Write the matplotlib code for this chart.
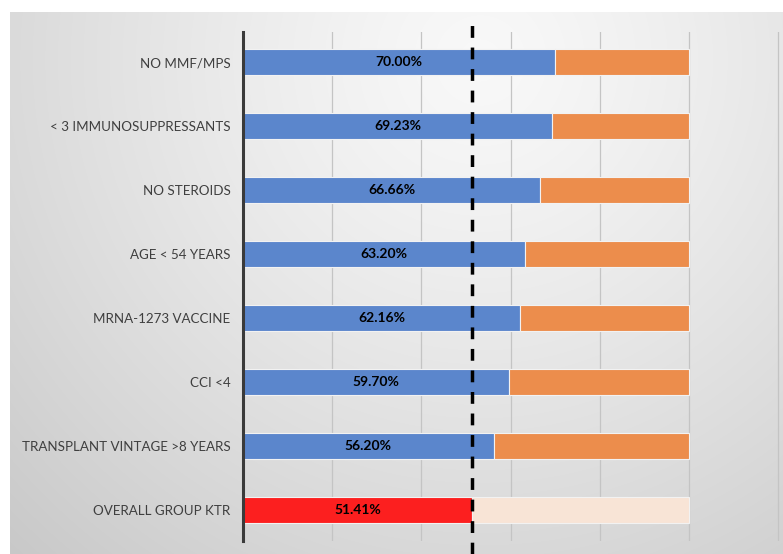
import numpy as np
import matplotlib
matplotlib.use("Agg")
import matplotlib.pyplot as plt
import matplotlib.transforms as mtransforms

categories = ["NO MMF/MPS", "< 3 IMMUNOSUPPRESSANTS", "NO STEROIDS", "AGE < 54 YEARS",
              "MRNA-1273 VACCINE", "CCI <4", "TRANSPLANT VINTAGE >8 YEARS", "OVERALL GROUP KTR"]
responders = [70.00, 69.23, 66.66, 63.20, 62.16, 59.70, 56.20, 51.41]
pct_labels = ["70.00%", "69.23%", "66.66%", "63.20%", "62.16%", "59.70%", "56.20%", "51.41%"]
overall = 51.41

W, H = 783, 554
fig = plt.figure(figsize=(W / 100, H / 100), dpi=100)
fig.patch.set_facecolor("white")

# grey gradient panel behind the chart
bg = fig.add_axes([10 / W, 0, (W - 10) / W, (H - 12) / H])
xx, yy = np.meshgrid(np.arange(10, W), np.arange(12, H))
d = np.sqrt((xx - 480) ** 2 + (yy - 60) ** 2)
v = 0.975 - 0.19 * (d / 682) ** 1.25
bg.imshow(np.dstack([v, v, v]).clip(0, 1), aspect="auto", interpolation="bilinear")
bg.axis("off")

ax = fig.add_axes([243 / W, 1 - 541 / H, (W - 243) / W, 509 / H])
ax.set_facecolor("none")
y = np.arange(len(categories))
resp = np.array(responders) / 100
blue = ["#5b86cc"] * (len(categories) - 1) + ["#fc1f1f"]
orange = ["#ec8d4c"] * (len(categories) - 1) + ["#f8e4d6"]
ax.barh(y, resp, height=0.4, color=blue, edgecolor="#f2f2f2", linewidth=0.8, zorder=2)
ax.barh(y, 1 - resp, left=resp, height=0.4, color=orange, edgecolor="#f2f2f2", linewidth=0.8, zorder=2)

for yi, r, lab in zip(y, resp, pct_labels):
    ax.text(r / 2, yi, lab, ha="center", va="center", fontsize=10, fontweight="bold",
            family="Lato", color="black", zorder=3)

ax.set_xlim(0, (W - 243) / 446)
ax.set_ylim(7.48, -0.47)
ax.set_xticks([0.2, 0.4, 0.6, 0.8, 1.0, 1.2])
ax.xaxis.grid(True, color="#c4c4c4", linewidth=0.9, zorder=0)
ax.tick_params(axis="x", length=0, labelbottom=False)
ax.set_yticks(y)
ax.set_yticklabels(categories, family="Lato", fontsize=9.6, color="#3f3f3f")
ax.tick_params(axis="y", length=0, pad=9)
for s in ["top", "right", "bottom"]:
    ax.spines[s].set_visible(False)
ax.spines["left"].set_color("#3a3a3a")
ax.spines["left"].set_linewidth(2.2)

# dashed reference line at the overall value
tr = mtransforms.blended_transform_factory(ax.transData, fig.transFigure)
ax.plot([overall / 100, overall / 100], [0, 1 - 24 / H], transform=tr, color="black",
        lw=2.5, linestyle=(0, (3.4, 2.8)), clip_on=False, zorder=4)

fig.savefig("out.png", dpi=100)
